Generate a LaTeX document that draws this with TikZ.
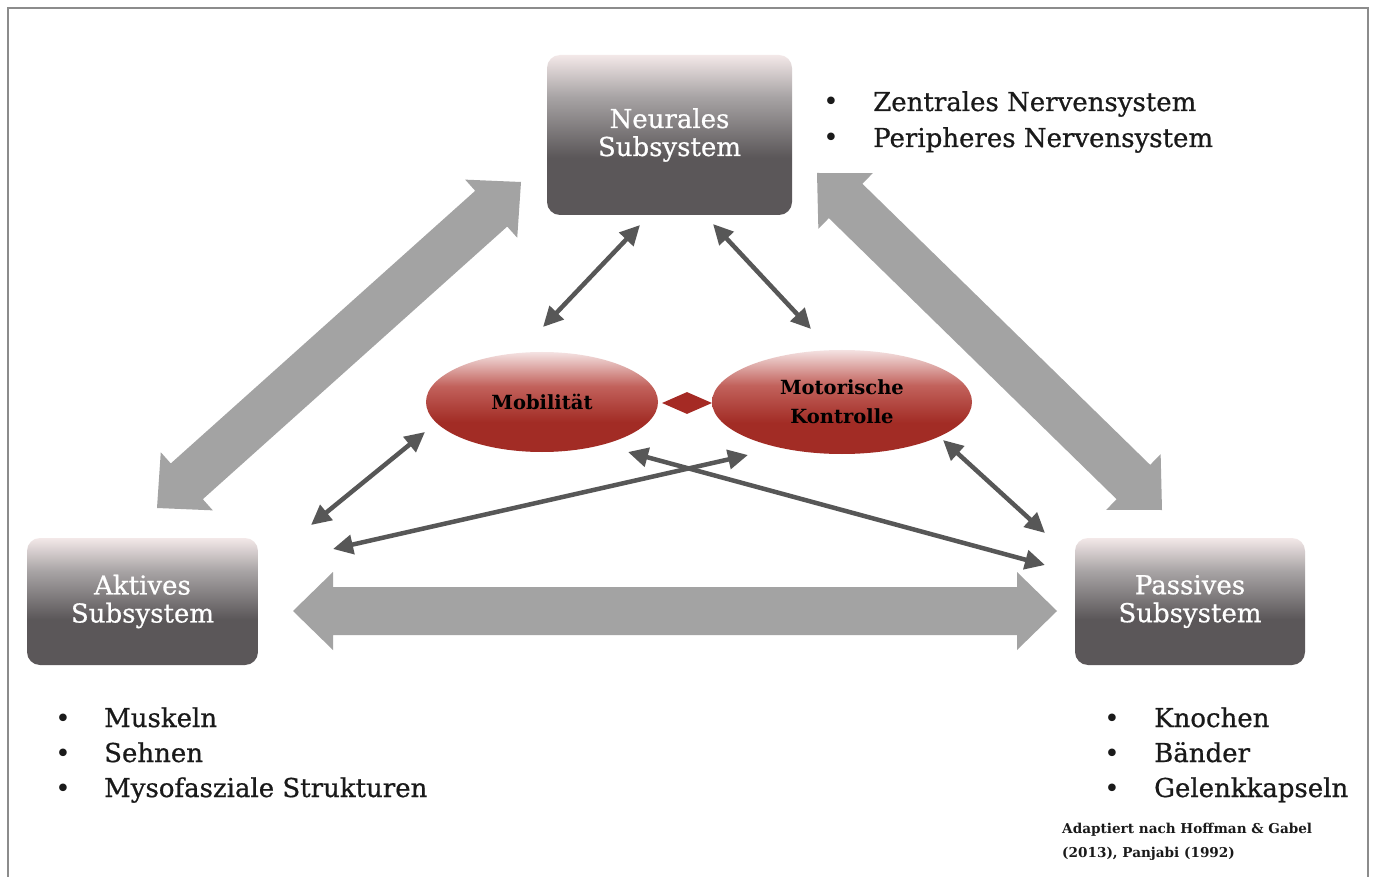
\documentclass[tikz,border=0pt]{standalone}
\usepackage{fontspec}
\setmainfont{DejaVu Serif}
\newfontfamily\heavyserif{DejaVu Serif}[FakeBold=0.7]
\usetikzlibrary{calc,shapes.geometric,arrows.meta}
\definecolor{bxdark}{HTML}{5B5759}
\definecolor{bxmid}{HTML}{A8A4A5}
\definecolor{bxlight}{HTML}{F3E8E8}
\definecolor{elldark}{HTML}{A22C25}
\definecolor{ellmid}{HTML}{C2625C}
\definecolor{elllight}{HTML}{F4E2E2}
\definecolor{bigcol}{HTML}{A3A3A3}
\definecolor{linkcol}{HTML}{575757}
\definecolor{framecol}{HTML}{8C8C8C}
\definecolor{txt}{HTML}{1A1A1A}
\definecolor{diacol}{HTML}{A52A24}
\pgfdeclareverticalshading{boxshade}{100bp}{color(0bp)=(bxdark); color(25bp)=(bxdark); color(43bp)=(bxdark); color(62bp)=(bxmid); color(75bp)=(bxlight); color(100bp)=(bxlight)}
\pgfdeclareverticalshading{ellshade}{100bp}{color(0bp)=(elldark); color(25bp)=(elldark); color(40bp)=(elldark); color(58bp)=(ellmid); color(75bp)=(elllight); color(100bp)=(elllight)}
\newcommand\dblbig[2]{%
  \coordinate (ha) at ($(#1)!40pt!(#2)$);
  \coordinate (hb) at ($(#2)!40pt!(#1)$);
  \fill[bigarrow] (#1) -- ($(ha)!39pt!90:(#2)$) -- ($(ha)!24pt!90:(#2)$) -- ($(hb)!24pt!-90:(#1)$) -- ($(hb)!39pt!-90:(#1)$) -- (#2) -- ($(hb)!39pt!90:(#1)$) -- ($(hb)!24pt!90:(#1)$) -- ($(ha)!24pt!-90:(#2)$) -- ($(ha)!39pt!-90:(#2)$) -- cycle;}
\tikzset{
  bigarrow/.style={fill=bigcol},
  subsys/.style={rectangle, rounded corners=13pt, shading=boxshade, draw=none, text=white, align=center, inner sep=0pt, font=\heavyserif\fontsize{26}{28}\selectfont},
  ell/.style={ellipse, shading=ellshade, draw=none, text=black, align=center, inner sep=0pt, font=\fontsize{19.5}{29}\selectfont\bfseries},
  link/.style={draw=linkcol, line width=4.5pt, {Triangle[length=20pt,width=19pt]}-{Triangle[length=20pt,width=19pt]}},
  item/.style={anchor=base west, inner sep=0pt, text=txt, font=\heavyserif\fontsize{26}{30}\selectfont},
  bull/.style={anchor=base, inner sep=0pt, text=txt, font=\fontsize{26}{30}\selectfont},
  cite/.style={anchor=base west, inner sep=0pt, text=txt, font=\fontsize{13.6}{24}\selectfont\bfseries},
  framel/.style={draw=framecol, line width=2pt}
}
\begin{document}
\begin{tikzpicture}[x=1pt,y=-1pt]
\useasboundingbox (0,0) rectangle (1374,877);
\fill[white] (0,0) rectangle (1374,877);
% frame
\coordinate (f1) at (8,877);
\coordinate (f2) at (8,8);
\coordinate (f3) at (1368,8);
\coordinate (f4) at (1368,877);
\draw[framel] (f1) -- (f2) -- (f3) -- (f4);
% big arrows
\coordinate (hA) at (293,611);
\coordinate (hB) at (1057,611);
\coordinate (lA) at (157,508);
\coordinate (lB) at (521,182);
\coordinate (rA) at (817,173);
\coordinate (rB) at (1162,510);
\dblbig{hA}{hB}
\dblbig{lA}{lB}
\dblbig{rA}{rB}
% boxes
\node[subsys, minimum width=245pt, minimum height=160pt] (neural) at (669.5,135) {Neurales\\Subsystem};
\node[subsys, minimum width=231pt, minimum height=127pt] (aktiv) at (142.5,601.5) {Aktives\\Subsystem};
\node[subsys, minimum width=230pt, minimum height=127pt] (passiv) at (1190,601.5) {Passives\\Subsystem};
% ellipses
\node[ell, minimum width=232pt, minimum height=100pt] (mob) at (542,402) {Mobilität};
\node[ell, minimum width=260pt, minimum height=104pt] (mot) at (842,402) {Motorische\\Kontrolle};
\node[diamond, fill=diacol, draw=none, inner sep=0pt, minimum width=50pt, minimum height=22pt] (dia) at (687,403) {};
% thin arrows
\coordinate (n1) at (640,225);
\coordinate (m1) at (543,327);
\coordinate (n2) at (713,224);
\coordinate (k1) at (811,329);
\coordinate (m2) at (425,432);
\coordinate (a1) at (311,525);
\coordinate (k2) at (748,455);
\coordinate (a2) at (333,549);
\coordinate (m3) at (628,452);
\coordinate (p1) at (1045,565);
\coordinate (k3) at (943,440);
\coordinate (p2) at (1045,533);
\draw[link] (n1) -- (m1);
\draw[link] (n2) -- (k1);
\draw[link] (m2) -- (a1);
\draw[link] (k2) -- (a2);
\draw[link] (m3) -- (p1);
\draw[link] (k3) -- (p2);
% lists
\node[bull] (zb1) at (831,111) {•};
\node[item] (z1) at (873,111) {Zentrales Nervensystem};
\node[bull] (zb2) at (831,147) {•};
\node[item] (z2) at (873,147) {Peripheres Nervensystem};
\node[bull] (ab1) at (63,727) {•};
\node[item] (a1t) at (104,727) {Muskeln};
\node[bull] (ab2) at (63,762) {•};
\node[item] (a2t) at (104,762) {Sehnen};
\node[bull] (ab3) at (63,797) {•};
\node[item] (a3t) at (104,797) {Mysofasziale Strukturen};
\node[bull] (pb1) at (1112,727) {•};
\node[item] (p1t) at (1154,727) {Knochen};
\node[bull] (pb2) at (1112,762) {•};
\node[item] (p2t) at (1154,762) {Bänder};
\node[bull] (pb3) at (1112,797) {•};
\node[item] (p3t) at (1154,797) {Gelenkkapseln};
\node[cite] (c1) at (1062,833) {Adaptiert nach Hoffman \& Gabel};
\node[cite] (c2) at (1062,857) {(2013), Panjabi (1992)};
\end{tikzpicture}
\end{document}
